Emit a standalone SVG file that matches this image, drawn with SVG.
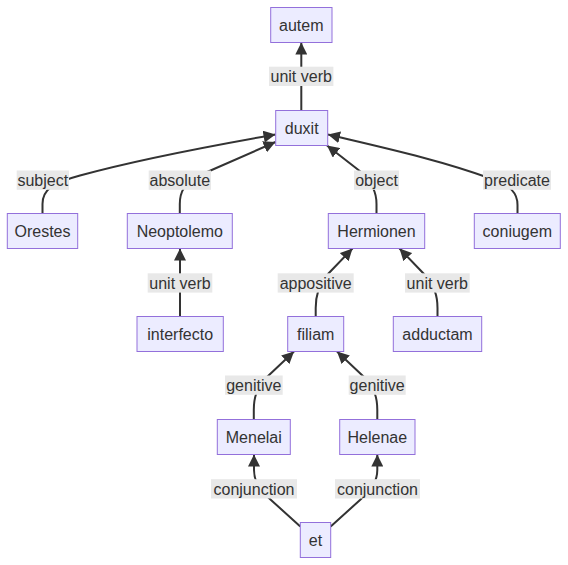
<svg xmlns="http://www.w3.org/2000/svg" width="568" height="565" viewBox="0 0 568 565">
<defs>
<style>
.node rect{fill:#ECECFF;stroke:#9370DB;stroke-width:1}
.node text,.elabel text{font-family:"Liberation Sans",Arial,sans-serif;font-size:16px;fill:#333;text-anchor:middle}
.edges path{fill:none;stroke:#333;stroke-width:2;marker-end:url(#arrow)}
.elabel rect{fill:#e8e8e8}
</style>
<marker id="arrow" viewBox="0 0 10 10" refX="10" refY="5" markerWidth="12" markerHeight="12" markerUnits="userSpaceOnUse" orient="auto">
<path d="M0,0 L10,5 L0,10 z" fill="#333"/>
</marker>
</defs>
<rect width="568" height="565" fill="#ffffff"/>
<g id="edges" class="edges">
<path d="M301.3,110.5 L301.3,42.5"/>
<path d="M42.5,213.5 L42.5,204 C42.5,190 52,183 80,175.5 C140,159 210,146 275.5,134.5"/>
<path d="M179.8,213.5 L179.8,204 C179.8,192 184,184 198,176 L275.5,142"/>
<path d="M376.5,213.5 L376.5,204 C376.5,192 372,183 361,172 L327,145.5"/>
<path d="M517.5,213.5 L517.5,205 C517.5,193 511,186 492,179 C440,160 385,148 328,134.5"/>
<path d="M180,316.5 L180,248.5"/>
<path d="M315.7,316.5 L315.7,308 C315.7,296 318,287 328,274 L352.5,248.5"/>
<path d="M437.5,316.5 L437.5,308 C437.5,296 435,287 424,274 L399.5,248.5"/>
<path d="M253.8,419.5 L253.8,410 C253.8,398 256,389 267,377 L294,351.5"/>
<path d="M377.3,419.5 L377.3,410 C377.3,398 375,389 364,377 L337,351.5"/>
<path d="M300.3,526.5 L271,500 C259,489 254,481 254,470 L254,454.5"/>
<path d="M330.7,526.5 L360,500 C372,489 377.3,481 377.3,470 L377.3,454.5"/>
</g>
<g id="edge-labels">
<g class="elabel"><rect x="269" y="66.7" width="64.4" height="19.3"/><text x="301.2" y="82.2">unit verb</text></g>
<g class="elabel"><rect x="16.7" y="170.5" width="52.3" height="19.3"/><text x="42.8" y="186">subject</text></g>
<g class="elabel"><rect x="148.7" y="170.5" width="62.3" height="19.3"/><text x="179.8" y="186">absolute</text></g>
<g class="elabel"><rect x="354" y="170.5" width="45" height="19.3"/><text x="376.5" y="186">object</text></g>
<g class="elabel"><rect x="483" y="170.5" width="68" height="19.3"/><text x="517" y="186">predicate</text></g>
<g class="elabel"><rect x="147.7" y="273.3" width="64.6" height="19.3"/><text x="180" y="288.5">unit verb</text></g>
<g class="elabel"><rect x="277.7" y="273.3" width="76" height="19.3"/><text x="315.7" y="288.5">appositive</text></g>
<g class="elabel"><rect x="405" y="273.3" width="64.7" height="19.3"/><text x="437.3" y="288.5">unit verb</text></g>
<g class="elabel"><rect x="225" y="375.5" width="57.7" height="19.3"/><text x="253.8" y="391">genitive</text></g>
<g class="elabel"><rect x="348.7" y="375.5" width="57" height="19.3"/><text x="377.2" y="391">genitive</text></g>
<g class="elabel"><rect x="211" y="479.2" width="86" height="19.3"/><text x="254" y="494.7">conjunction</text></g>
<g class="elabel"><rect x="335" y="479.2" width="85" height="19.3"/><text x="377.5" y="494.7">conjunction</text></g>
</g>
<g id="autem" class="node"><rect x="270.7" y="7.5" width="61.3" height="35"/><text x="301.3" y="30.5">autem</text></g>
<g id="duxit" class="node"><rect x="275.7" y="110.5" width="52" height="35"/><text x="301.7" y="133.5">duxit</text></g>
<g id="Orestes" class="node"><rect x="7.3" y="213.5" width="70.4" height="35"/><text x="42.5" y="236.5">Orestes</text></g>
<g id="Neoptolemo" class="node"><rect x="127.3" y="213.5" width="105" height="35"/><text x="179.8" y="236.5">Neoptolemo</text></g>
<g id="Hermionen" class="node"><rect x="328.3" y="213.5" width="96.4" height="35"/><text x="376.5" y="236.5">Hermionen</text></g>
<g id="coniugem" class="node"><rect x="474.3" y="213.5" width="86" height="35"/><text x="517.3" y="236.5">coniugem</text></g>
<g id="interfecto" class="node"><rect x="137" y="316.5" width="86.3" height="35"/><text x="180.2" y="339.5">interfecto</text></g>
<g id="filiam" class="node"><rect x="287.7" y="316.5" width="56" height="35"/><text x="315.7" y="339.5">filiam</text></g>
<g id="adductam" class="node"><rect x="393.3" y="316.5" width="88.4" height="35"/><text x="437.5" y="339.5">adductam</text></g>
<g id="Menelai" class="node"><rect x="217.3" y="419.5" width="73" height="35"/><text x="253.8" y="442.5">Menelai</text></g>
<g id="Helenae" class="node"><rect x="339.7" y="419.5" width="75.3" height="35"/><text x="377.3" y="442.5">Helenae</text></g>
<g id="et" class="node"><rect x="300.3" y="522.5" width="30.4" height="35"/><text x="315.5" y="545.5">et</text></g>
</svg>
